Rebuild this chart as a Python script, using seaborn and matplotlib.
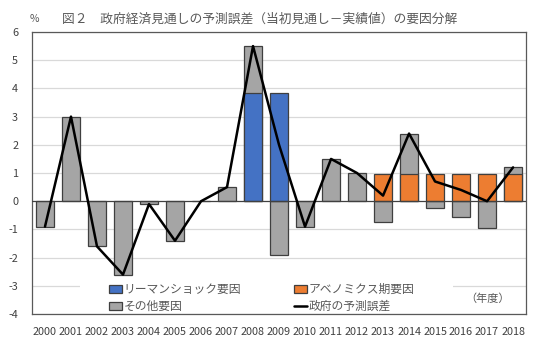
import numpy as np
import pandas as pd
import matplotlib
matplotlib.use("Agg")
import matplotlib.pyplot as plt
from matplotlib.patches import Patch, Rectangle
from matplotlib.lines import Line2D
import seaborn as sns

# 年度
years = [str(y) for y in range(2000, 2019)]
# リーマンショック要因
lehman = [0, 0, 0, 0, 0, 0, 0, 0, 3.85, 3.85, 0, 0, 0, 0, 0, 0, 0, 0, 0]
# アベノミクス期要因
abe = [0, 0, 0, 0, 0, 0, 0, 0, 0, 0, 0, 0, 0, 0.95, 0.95, 0.95, 0.95, 0.95, 0.95]
# その他要因
other = [-0.9, 3.0, -1.6, -2.6, -0.1, -1.4, 0.0, 0.5, 1.65, -1.9,
         -0.9, 1.5, 1.0, -0.75, 1.45, -0.25, -0.55, -0.95, 0.25]
# 政府の予測誤差
total = [-0.9, 3.0, -1.6, -2.6, -0.1, -1.4, 0.0, 0.5, 5.5, 2.0,
         -0.9, 1.5, 1.0, 0.2, 2.4, 0.7, 0.4, 0.0, 1.2]

yticks = list(range(-4, 7))

BLUE = "#4472C4"
ORANGE = "#ED7D31"
GREY = "#A5A5A5"
EDGE = "#3F3F3F"
TEXT = "#595959"

sns.set_theme(style="white")
plt.rcParams["font.family"] = ["Noto Sans CJK JP", "DejaVu Sans"]

fig = plt.figure(figsize=(5.33, 3.44), dpi=100)
ax = fig.add_axes([0.060, 0.087, 0.927, 0.820])

base = np.array(lehman) + np.array(abe)
oth = np.array(other)
# その他要因: 正なら主要因の上に積み上げ、負ならゼロから下へ
grey_top = np.where(oth > 0, base + oth, oth)

df_other = pd.DataFrame({"year": years, "value": grey_top})
sns.barplot(data=df_other, x="year", y="value", order=years, color=GREY,
            edgecolor=EDGE, linewidth=0.9, width=0.68, saturation=1,
            ax=ax, zorder=2)

rows = []
for y, l, a in zip(years, lehman, abe):
    if l:
        rows.append((y, l, "リーマンショック要因"))
    if a:
        rows.append((y, a, "アベノミクス期要因"))
df_main = pd.DataFrame(rows, columns=["year", "value", "factor"])
sns.barplot(data=df_main, x="year", y="value", hue="factor", order=years,
            palette={"リーマンショック要因": BLUE, "アベノミクス期要因": ORANGE},
            edgecolor=EDGE, linewidth=0.9, width=0.68, dodge=False,
            saturation=1, legend=False, ax=ax, zorder=3)

df_total = pd.DataFrame({"year": years, "total": total})
sns.lineplot(data=df_total, x="year", y="total", color="black", linewidth=1.8,
             sort=False, ax=ax, zorder=5)

ax.set_xlim(-0.5, len(years) - 0.5)
ax.set_ylim(-4, 6)
ax.set_yticks(yticks)
ax.set_yticklabels([str(t) for t in yticks])
ax.set_xlabel("")
ax.set_ylabel("")
for t in yticks:
    if t != 0:
        ax.axhline(t, color="#D9D9D9", linewidth=0.9, zorder=0)
ax.axhline(0, color="#404040", linewidth=0.9, zorder=4)

for s in ax.spines.values():
    s.set_color("#595959")
    s.set_linewidth(0.9)

ax.tick_params(axis="both", length=0, labelsize=7.8, colors="#404040")
ax.tick_params(axis="y", pad=10)
ax.tick_params(axis="x", pad=9)

# 凡例の白い背景
ax.add_patch(Rectangle((80 / 533, 1 - 312 / 344), (453 - 80) / 533, (312 - 279) / 344,
                       transform=fig.transFigure, facecolor="white",
                       edgecolor="none", zorder=1))

handles = [
    Patch(facecolor=BLUE, edgecolor=EDGE, linewidth=0.9, label="リーマンショック要因"),
    Patch(facecolor=GREY, edgecolor=EDGE, linewidth=0.9, label="その他要因"),
    Patch(facecolor=ORANGE, edgecolor=EDGE, linewidth=0.9, label="アベノミクス期要因"),
    Line2D([0], [0], color="black", linewidth=1.8, label="政府の予測誤差"),
]
leg = ax.legend(handles=handles, ncol=2, loc="upper left",
                bbox_to_anchor=(0.186, 0.205), bbox_transform=fig.transFigure,
                frameon=False, fontsize=8.5, handlelength=1.1,
                handleheight=0.6, handletextpad=0.15, columnspacing=4.5,
                labelspacing=0.35, borderpad=0.3)
for txt in leg.get_texts():
    txt.set_color(TEXT)
leg.set_zorder(6)

ax.text(0.914, 0.133, "（年度）", transform=fig.transFigure, ha="center",
        va="center", fontsize=8, color=TEXT)

fig.text(0.065, 0.945, "%", ha="center", va="center", fontsize=7.5, color=TEXT)
fig.text(0.117, 0.945, "図２　政府経済見通しの予測誤差（当初見通し－実績値）の要因分解",
         ha="left", va="center", fontsize=9.2, color=TEXT)

fig.savefig("out.png", dpi=100)
